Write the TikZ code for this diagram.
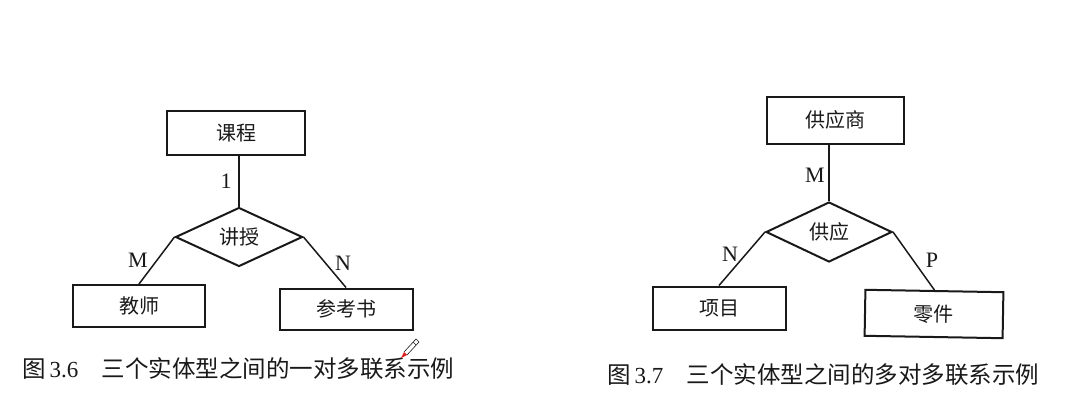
\documentclass[tikz,border=0pt]{standalone}
\usepackage{fontspec}
\setmainfont{Liberation Serif}
\newfontfamily\cjk{Noto Sans CJK SC}
\usetikzlibrary{shapes.geometric}
\definecolor{ink}{RGB}{25,25,25}
\definecolor{penred}{RGB}{225,30,30}
\tikzset{
  ent/.style={draw=ink, line width=2pt, minimum height=44pt, font=\cjk\fontsize{20}{20}\selectfont, text=ink},
  rel/.style={draw=ink, line width=2pt, shape=diamond, minimum width=127pt, minimum height=59pt, inner sep=0pt, font=\cjk\fontsize{20}{20}\selectfont, text=ink},
  conn/.style={draw=ink, line width=1.5pt},
  card/.style={font=\fontsize{22}{22}\selectfont, text=ink, inner sep=0pt},
  capt/.style={font=\cjk\fontsize{23.5}{24}\selectfont, text=ink, anchor=west, inner sep=0pt}
}
\newcommand{\fignum}[1]{{\rmfamily\fontsize{23}{24}\selectfont #1}}
\begin{document}
\begin{tikzpicture}[x=1pt, y=-1pt]
\useasboundingbox[fill=white] (0,0) rectangle (1079,420);
% ---- Figure 3.6 ----
\node[ent, minimum width=138pt] (kc) at (236,133) {课程};
\node[rel] (js) at (239,237) {讲授};
\node[ent, minimum width=132pt, minimum height=42pt] (jsh) at (139,306) {教师};
\node[ent, minimum width=133pt, minimum height=41pt] (ckh) at (346,309) {参考书};
\draw[conn] (js.north) -- (js.north |- kc.south);
\draw[conn] (js.west) -- (jsh.north);
\draw[conn] (js.east) -- (ckh.north);
\node[card] (c1) at (226,181) {1};
\node[card] (cm) at (138,260) {M};
\node[card] (cn) at (343,263) {N};
\node[capt] (cap1) at (22,369) {图\,\fignum{3.6}\hspace{1.0em}三个实体型之间的一对多联系示例};
% pencil mark
\coordinate (pt) at (401,358);
\coordinate (pe) at (419,339);
\draw[ink, line width=0.6pt] (404,352) -- (416,339) -- (419,342) -- (407,355);
\draw[ink, line width=0.5pt] (413,342) -- (416,345);
\fill[penred] (pt) -- (404,352) -- (407,355) -- cycle;
% ---- Figure 3.7 ----
\node[ent, minimum width=137pt, minimum height=47pt] (gys) at (835,120) {供应商};
\node[rel, minimum width=126pt, minimum height=60pt] (gy) at (829,232) {供应};
\node[ent, minimum width=133pt, minimum height=43pt] (xm) at (719,308) {项目};
\node[ent, minimum width=138pt, minimum height=46pt, rotate=-1] (lj) at (934,314) {零件};
\draw[conn] (gy.north) -- (gy.north |- gys.south);
\draw[conn] (gy.west) -- (xm.north);
\draw[conn] (gy.east) -- (lj.north);
\node[card] (c2m) at (815,175) {M};
\node[card] (c2n) at (730,254) {N};
\node[card] (c2p) at (932,260) {P};
\node[capt] (cap2) at (607,375) {图\,\fignum{3.7}\hspace{1.0em}三个实体型之间的多对多联系示例};
\end{tikzpicture}
\end{document}
